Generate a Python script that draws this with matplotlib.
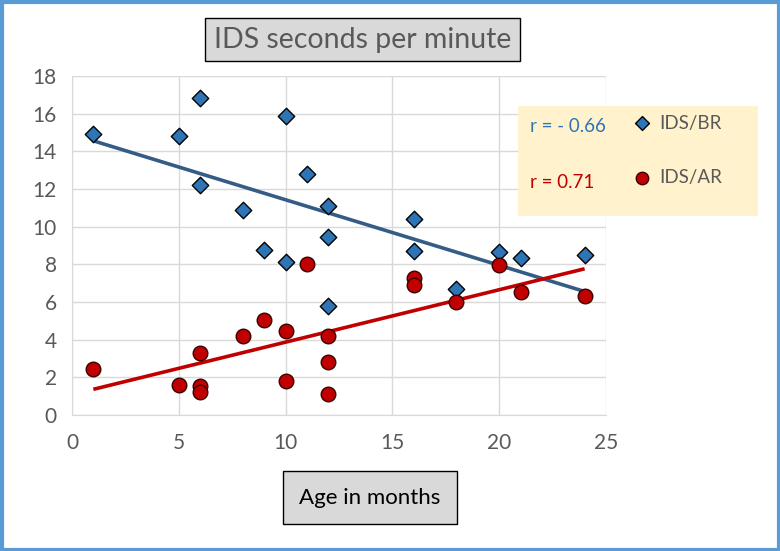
import numpy as np
import matplotlib
matplotlib.use("Agg")
from matplotlib import pyplot as plt
from matplotlib.patches import Rectangle

# IDS/BR (blue diamonds)
br_age = [1, 5, 6, 6, 8, 9, 10, 10, 11, 12, 12, 12, 16, 16, 18, 20, 21, 24]
br_ids = [14.9, 14.8, 16.85, 12.2, 10.9, 8.75, 15.9, 8.1, 12.8, 11.1, 9.45, 5.8,
          10.4, 8.7, 6.7, 8.65, 8.35, 8.5]

# IDS/AR (red circles)
ar_age = [1, 5, 6, 6, 6, 8, 9, 10, 10, 11, 12, 12, 12, 16, 16, 18, 20, 21, 24]
ar_ids = [2.45, 1.6, 3.3, 1.55, 1.2, 4.2, 5.05, 4.45, 1.8, 8.0, 4.2, 2.8, 1.1,
          7.3, 6.9, 6.0, 7.95, 6.55, 6.3]

r_labels = ["r = - 0.66", "r = 0.71"]
series_names = ["IDS/BR", "IDS/AR"]

blue = "#2e75b6"
red = "#c00000"
gray_txt = "#595959"

plt.rcParams["font.family"] = ["Lato", "DejaVu Sans"]

fig = plt.figure(figsize=(7.8, 5.51), dpi=100)
ax = fig.add_axes([0.0923, 0.2468, 0.6846, 0.6152])

# trend lines
for x, y, c in [(br_age, br_ids, "#355c85"), (ar_age, ar_ids, red)]:
    k, b = np.polyfit(x, y, 1)
    xs = np.array([min(x), max(x)])
    ax.plot(xs, k * xs + b, color=c, lw=2.6, zorder=2, solid_capstyle="butt")

ax.scatter(br_age, br_ids, marker="D", s=70, color=blue, edgecolor="black",
           linewidth=1, zorder=3)
ax.scatter(ar_age, ar_ids, marker="o", s=110, color=red, edgecolor="#3a0000",
           linewidth=1, zorder=3)

ax.set_xlim(0, 25)
ax.set_ylim(0, 18)
ax.set_xticks(range(0, 26, 5))
ax.set_yticks(range(0, 19, 2))
ax.grid(True, color="#d9d9d9", lw=1)
ax.set_axisbelow(True)
for s in ax.spines.values():
    s.set_visible(False)
ax.spines["left"].set_visible(True)
ax.spines["bottom"].set_visible(True)
ax.spines["left"].set_color("#d9d9d9")
ax.spines["bottom"].set_color("#d9d9d9")
ax.tick_params(length=0, labelsize=15, colors=gray_txt)
ax.tick_params(axis="x", pad=13)
ax.tick_params(axis="y", pad=11)

# title box
fig.text(0.465, 0.928, "IDS seconds per minute", ha="center", va="center",
         fontsize=20.5, color=gray_txt,
         bbox=dict(boxstyle="square,pad=0.3", fc="#d9d9d9", ec="black", lw=1))

# x label box
fig.text(0.4744, 0.097, "Age in months", ha="center", va="center",
         fontsize=16, color="black",
         bbox=dict(boxstyle="square,pad=0.75", fc="#d9d9d9", ec="black", lw=1))

# legend / correlation box (overlay axes in pixel coords)
lax = fig.add_axes([0, 0, 1, 1], facecolor="none")
lax.set_xlim(0, 780)
lax.set_ylim(551, 0)
lax.axis("off")
lax.add_patch(Rectangle((518, 106), 240, 110, fc="#fff2cc", ec="none", zorder=1))
lax.text(530, 127, r_labels[0], color=blue, fontsize=13.5, va="center", zorder=3)
lax.text(530, 182, r_labels[1], color=red, fontsize=13.5, va="center", zorder=3)
lax.scatter([642], [123], marker="D", s=50, color=blue, edgecolor="black",
            linewidth=1, zorder=3)
lax.scatter([642], [178], marker="o", s=80, color=red, edgecolor="#3a0000",
            linewidth=1, zorder=3)
lax.text(659, 123, series_names[0], color=gray_txt, fontsize=13.5, va="center", zorder=3)
lax.text(659, 178, series_names[1], color=gray_txt, fontsize=13.5, va="center", zorder=3)

# outer border
lax.add_patch(Rectangle((1.5, 1.5), 777, 548, fill=False, ec="#5b9bd5", lw=3,
                        zorder=10))

fig.savefig("out.png", dpi=100)
